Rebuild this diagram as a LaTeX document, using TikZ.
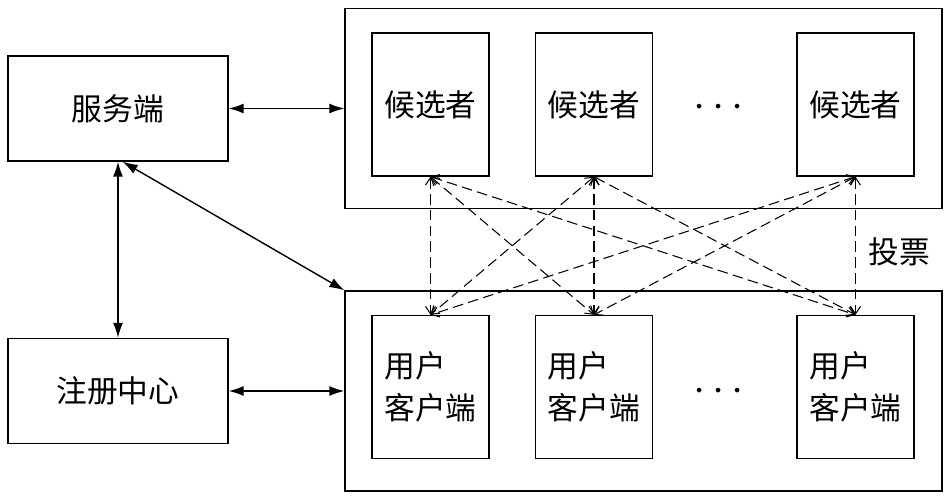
\documentclass[tikz,border=0pt]{standalone}
\usepackage{fontspec}
\setmainfont{Noto Sans CJK SC}
\usepackage{tikz}
\usetikzlibrary{arrows.meta}

\begin{document}
\begin{tikzpicture}[x=0.02cm, y=-0.02cm, line width=0.8pt,
    testo/.style = {font=\fontsize{17.5}{24}\selectfont},
    puntini/.style = {font=\fontsize{26}{26}\selectfont},
    blocco/.style = {draw, testo, minimum width=4.4cm, minimum height=2.1cm},
    gruppo/.style = {draw, minimum width=11.94cm, minimum height=4cm},
    membro/.style = {draw, testo, align=left, minimum width=2.34cm, minimum height=2.86cm},
    freccia/.style = {{Latex[length=0.3cm,width=0.2cm]}-{Latex[length=0.3cm,width=0.2cm]}},
    voto/.style = {line width=0.6pt, dash pattern=on 6pt off 3pt,
      {Straight Barb[length=0.15cm,width=0.2cm]}-{Straight Barb[length=0.15cm,width=0.2cm]}}]
    \useasboundingbox (0,0) rectangle (951,500);

    % blocchi a sinistra
    \node[blocco] (srv) at (118,108.5) {服务端};
    \node[blocco] (reg) at (118,391) {注册中心};

    % gruppi a destra
    \node[gruppo] (cand) at (643.5,108.5) {};   % candidati
    \node[gruppo] (cli) at (643.5,391) {};      % client

    % candidati
    \node[membro] (c1) at (430.5,104.5) {候选者};
    \node[membro] (c2) at (594,104.5) {候选者};
    \node[membro] (c3) at (855.5,104.5) {候选者};
    \node[puntini] (dc) at (719,108) {${\cdot}\hspace{0.15em}{\cdot}\hspace{0.15em}{\cdot}$};

    % client utente
    \node[membro] (u1) at (430.5,387) {用户\\客户端};
    \node[membro] (u2) at (594,387) {用户\\客户端};
    \node[membro] (u3) at (855.5,387) {用户\\客户端};
    \node[puntini] (du) at (719,392) {${\cdot}\hspace{0.15em}{\cdot}\hspace{0.15em}{\cdot}$};

    \node[testo] (lv) at (899,252) {投票};

    % collegamenti
    \draw[freccia] (srv) -- (cand);
    \draw[freccia] (reg) -- (cli);
    \draw[freccia] (srv) -- (reg);
    \draw[freccia] (srv.-85) -- (cli.north west);

    % voti: ogni candidato con ogni client
    \foreach \a in {1,2,3}
      \foreach \b in {1,2,3}
        \draw[voto] (c\a.south) -- (u\b.north);
\end{tikzpicture}
\end{document}
